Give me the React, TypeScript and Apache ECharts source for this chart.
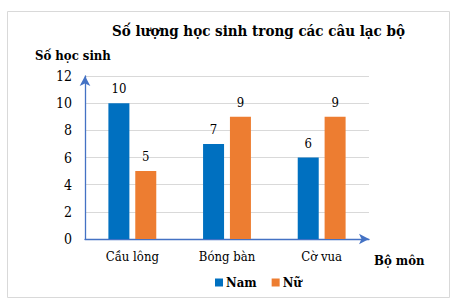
import React, { useEffect, useRef } from "react";
import * as echarts from "echarts";

const categories = ["Cầu lông", "Bóng bàn", "Cờ vua"];
const namValues = [10, 7, 6];
const nuValues = [5, 9, 9];
const seriesNames = ["Nam", "Nữ"];
const titleText = "Số lượng học sinh trong các câu lạc bộ";
const yAxisTitle = "Số học sinh";
const xAxisTitle = "Bộ môn";

const FONT = "DejaVu Serif Condensed";

export default function App() {
  const ref = useRef<HTMLDivElement>(null);
  useEffect(() => {
    document.body.style.margin = "0";
    const chart = echarts.init(ref.current!, null, { renderer: "svg" });
    chart.setOption({
      animation: false,
      backgroundColor: "#ffffff",
      textStyle: { fontFamily: FONT },
      title: {
        text: titleText,
        left: 112,
        top: 23,
        padding: 0,
        textStyle: { fontFamily: FONT, fontSize: 15, fontWeight: "bold", color: "#000" },
      },
      legend: {
        data: seriesNames,
        left: 215,
        top: 276,
        padding: 0,
        itemWidth: 8,
        itemHeight: 8,
        itemGap: 15,
        icon: "rect",
        textStyle: { fontFamily: FONT, fontSize: 13, fontWeight: "bold", color: "#000", padding: [0, 0, 0, -2] },
      },
      grid: { left: 85, right: 89, top: 76, bottom: 63, containLabel: false },
      xAxis: {
        type: "category",
        data: categories,
        axisLine: {
          show: true,
          lineStyle: { color: "#4472C4", width: 1.3 },
          symbol: ["none", "arrow"],
          symbolSize: [8, 10],
        },
        axisTick: { show: false },
        axisLabel: { fontFamily: FONT, fontSize: 13, color: "#000", margin: 11 },
      },
      yAxis: {
        type: "value",
        min: 0,
        max: 12,
        interval: 2,
        axisLine: {
          show: true,
          lineStyle: { color: "#4472C4", width: 1.3 },
          symbol: ["none", "arrow"],
          symbolSize: [8, 10],
        },
        axisTick: { show: false },
        axisLabel: { fontFamily: FONT, fontSize: 14, color: "#000", margin: 13 },
        splitLine: { show: true, lineStyle: { color: "#d9d9d9", width: 1 } },
      },
      series: [
        {
          name: seriesNames[0],
          type: "bar",
          data: namValues,
          barWidth: 21,
          barGap: "28%",
          itemStyle: { color: "#0070C0" },
          label: { show: true, position: "top", distance: 8, fontFamily: FONT, fontSize: 13, color: "#000" },
        },
        {
          name: seriesNames[1],
          type: "bar",
          data: nuValues,
          barWidth: 21,
          barGap: "28%",
          itemStyle: { color: "#ED7D31" },
          label: { show: true, position: "top", distance: 8, fontFamily: FONT, fontSize: 13, color: "#000" },
        },
      ],
      graphic: [
        {
          type: "rect",
          shape: { x: 7.5, y: 11.5, width: 442, height: 286 },
          style: { fill: "none", stroke: "#d9d9d9", lineWidth: 1 },
          silent: true,
          z: -1,
        },
        {
          type: "text",
          left: 35,
          top: 49,
          style: { text: yAxisTitle, fontFamily: FONT, fontSize: 13, fontWeight: "bold", fill: "#000" },
        },
        {
          type: "text",
          left: 374,
          top: 254,
          style: { text: xAxisTitle, fontFamily: FONT, fontSize: 13, fontWeight: "bold", fill: "#000" },
        },
      ],
    });
    return () => chart.dispose();
  }, []);
  return <div ref={ref} style={{ width: 458, height: 302 }} />;
}
